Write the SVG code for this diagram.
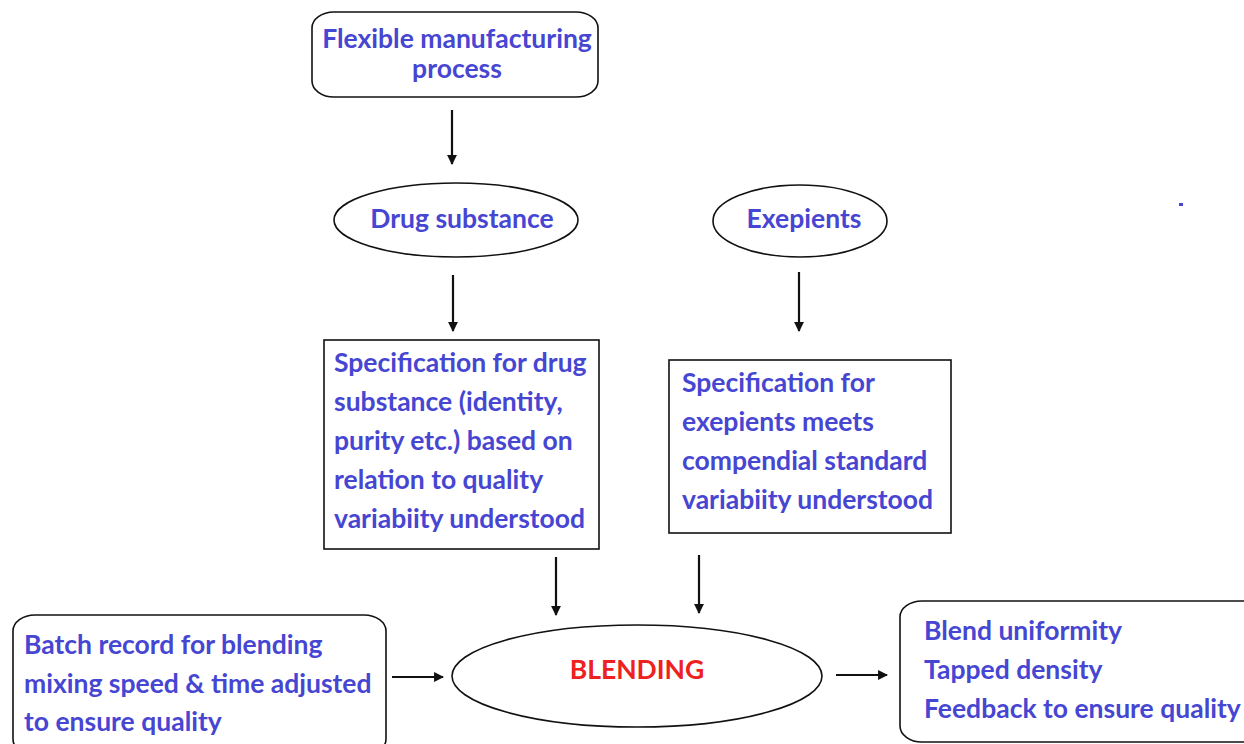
<svg xmlns="http://www.w3.org/2000/svg" width="1244" height="744" viewBox="0 0 1244 744">
  <style>
    .shape { fill: #ffffff; stroke: #111111; stroke-width: 1.6; }
    .txt { font-family: Lato, "Open Sans", "Liberation Sans", sans-serif; font-weight: bold; font-size: 26.5px; fill: #4646d2; }
    .red { fill: #ee2020; }
    .conn line { stroke: #111111; stroke-width: 2.2; marker-end: url(#arrow); }
  </style>
  <defs>
    <marker id="arrow" viewBox="0 0 10 10" refX="9" refY="5" markerWidth="4.5" markerHeight="4.5" orient="auto" markerUnits="strokeWidth">
      <path d="M0,0 L10,5 L0,10 z" fill="#111111"/>
    </marker>
  </defs>
  <rect width="1244" height="744" fill="#ffffff"/>

  <g id="flexible">
    <rect class="shape" x="312" y="12" width="286" height="85" rx="22" ry="16"/>
    <text class="txt" x="457" y="48" text-anchor="middle">Flexible manufacturing</text>
    <text class="txt" x="457" y="78" text-anchor="middle">process</text>
  </g>

  <g id="drug-substance">
    <ellipse class="shape" cx="456" cy="220" rx="122" ry="37"/>
    <text class="txt" x="462" y="228" text-anchor="middle">Drug substance</text>
  </g>

  <g id="exepients">
    <ellipse class="shape" cx="800" cy="221" rx="87" ry="36"/>
    <text class="txt" x="804" y="228" text-anchor="middle">Exepients</text>
  </g>

  <g id="spec-drug">
    <rect class="shape" x="324" y="340" width="275" height="209"/>
    <text class="txt" x="334" y="372">Specification for drug</text>
    <text class="txt" x="334" y="411">substance (identity,</text>
    <text class="txt" x="334" y="450">purity etc.) based on</text>
    <text class="txt" x="334" y="489">relation to quality</text>
    <text class="txt" x="334" y="528">variabiity understood</text>
  </g>

  <g id="spec-exepients">
    <rect class="shape" x="669" y="360" width="282" height="173"/>
    <text class="txt" x="682" y="392">Specification for</text>
    <text class="txt" x="682" y="431">exepients meets</text>
    <text class="txt" x="682" y="470">compendial standard</text>
    <text class="txt" x="682" y="509">variabiity understood</text>
  </g>

  <g id="batch-record">
    <rect class="shape" x="13" y="615" width="373" height="140" rx="22" ry="16"/>
    <text class="txt" x="24" y="654">Batch record for blending</text>
    <text class="txt" x="24" y="693">mixing speed &amp; time adjusted</text>
    <text class="txt" x="24" y="731">to ensure quality</text>
  </g>

  <g id="blending">
    <ellipse class="shape" cx="637" cy="676" rx="185" ry="51"/>
    <text class="txt red" x="637" y="679" text-anchor="middle">BLENDING</text>
  </g>

  <g id="outcomes">
    <rect class="shape" x="900" y="601" width="370" height="141" rx="22" ry="16"/>
    <text class="txt" x="924" y="640">Blend uniformity</text>
    <text class="txt" x="924" y="679">Tapped density</text>
    <text class="txt" x="924" y="718">Feedback to ensure quality</text>
  </g>

  <g id="mark">
    <rect x="1179" y="203" width="4" height="3" fill="#4646d2"/>
  </g>

  <g id="connectors" class="conn">
    <line x1="452" y1="110" x2="452" y2="164"/>
    <line x1="453" y1="275" x2="453" y2="331"/>
    <line x1="799" y1="272" x2="799" y2="331"/>
    <line x1="556" y1="557" x2="556" y2="615"/>
    <line x1="699" y1="555" x2="699" y2="613"/>
    <line x1="392" y1="677" x2="443" y2="677"/>
    <line x1="836" y1="675" x2="887" y2="675"/>
  </g>
</svg>
